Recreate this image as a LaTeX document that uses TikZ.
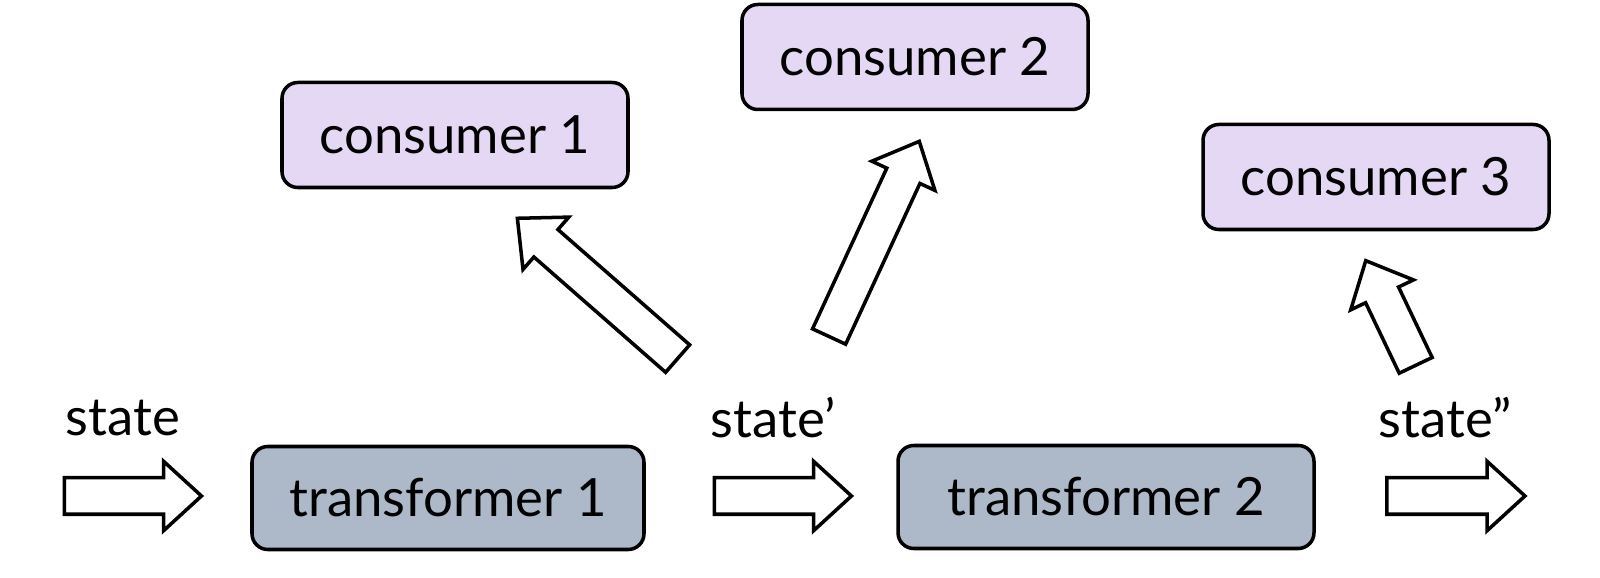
\documentclass[tikz,border=0pt]{standalone}
\usepackage{fontspec}
\setmainfont{Lato}
\usetikzlibrary{shapes.arrows}
\definecolor{consfill}{HTML}{E5D8F5}
\definecolor{transfill}{HTML}{ADB8C9}
\tikzset{
  box/.style={draw=black,line width=2pt,rounded corners=9pt,inner sep=0pt,
    font=\fontsize{30}{36}\selectfont},
  consumer/.style={box,fill=consfill,minimum width=6.92cm,minimum height=2.1cm},
  transformer/.style={box,fill=transfill,minimum height=2.06cm},
  flow/.style={draw=black,fill=white,line width=2pt,shape=single arrow,inner xsep=0pt,
    inner ysep=0.33cm,single arrow head extend=0.33cm,single arrow tip angle=85},
  lbl/.style={font=\fontsize{30}{36}\selectfont}
}
\begin{document}
\begin{tikzpicture}
\useasboundingbox (0,0) rectangle (32,-11.56);

\node[consumer] (c1) at (9.1,-2.7) {consumer 1};
\node[consumer] (c2) at (18.3,-1.14) {consumer 2};
\node[consumer] (c3) at (27.52,-3.54) {consumer 3};

\node[transformer,minimum width=7.84cm] (t1) at (8.96,-9.96) {transformer 1};
\node[transformer,minimum width=8.32cm] (t2) at (22.12,-9.94) {transformer 2};

\node[flow,minimum height=2.74cm] (in) at (2.46,-9.92) {};
\node[flow,minimum height=2.74cm] (mid) at (15.46,-9.92) {};
\node[flow,minimum height=2.76cm] (out) at (28.92,-9.92) {};

\node[flow,minimum height=4.26cm,rotate=138.8] (up1) at (12.1,-5.9) {};
\node[flow,minimum height=4.3cm,rotate=65.2] (up2) at (17.4,-4.96) {};
\node[flow,minimum height=2.32cm,rotate=115.5] (up3) at (27.9,-6.44) {};

\node[lbl] (s0) at (2.46,-8.36) {state};
\node[lbl] (s1) at (15.46,-8.36) {state'};
\node[lbl] (s2) at (28.9,-8.36) {state''};
\end{tikzpicture}
\end{document}
